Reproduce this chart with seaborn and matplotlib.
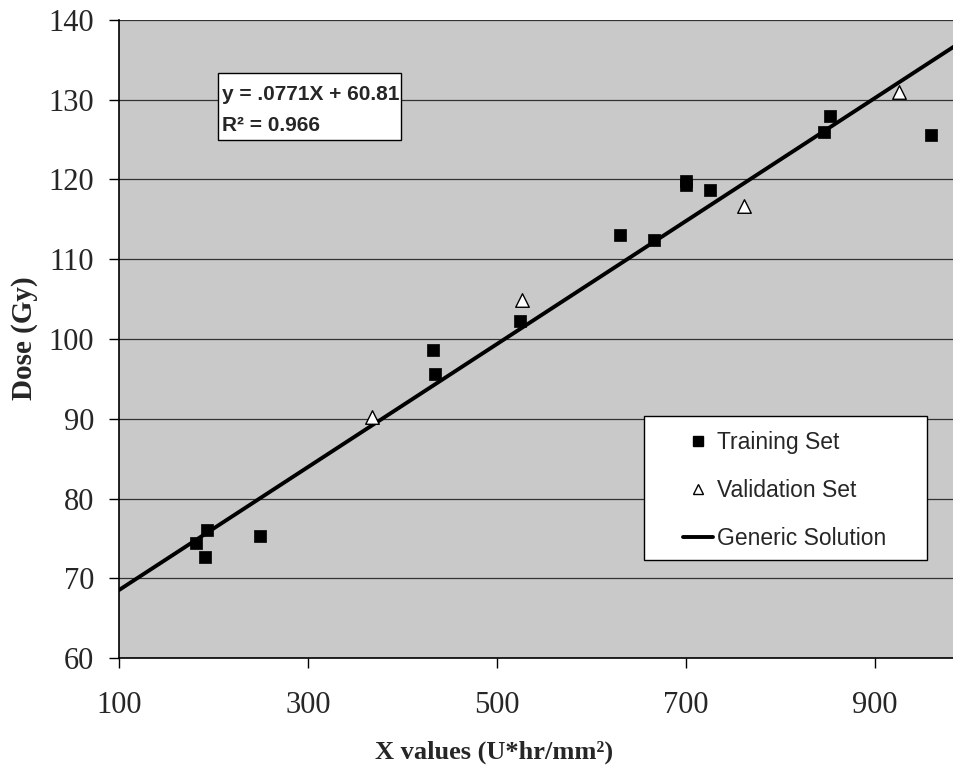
import numpy as np
import pandas as pd
import matplotlib
matplotlib.use("Agg")
import matplotlib.pyplot as plt
import seaborn as sns
from matplotlib.lines import Line2D
from matplotlib.patches import Rectangle

# ---- data ----
train_x = [181, 193, 191, 249, 432, 435, 525, 630, 666, 700, 700, 726, 846, 853, 960]
train_y = [74.4, 76.1, 72.7, 75.3, 98.6, 95.6, 102.3, 113.1, 112.4, 119.8, 119.3, 118.7, 126.0, 127.9, 125.6]
valid_x = [368, 527, 762, 926]
valid_y = [90.2, 104.9, 116.7, 131.0]
slope = 0.0771
intercept = 60.81
line_x = [100, 1000]
xticks = [100, 300, 500, 700, 900]
yticks = [60, 70, 80, 90, 100, 110, 120, 130, 140]

sns.set_style("white")
plt.rcParams["font.family"] = ["Liberation Serif", "DejaVu Serif"]

fig = plt.figure(figsize=(9.54, 7.69), dpi=100)
ax = fig.add_axes([119/954, 111/769, 1 - 119/954 + 0.002, 638/769])
ax.set_facecolor("#c9c9c9")

df_train = pd.DataFrame({"x": train_x, "y": train_y})
df_valid = pd.DataFrame({"x": valid_x, "y": valid_y})
df_line = pd.DataFrame({"x": line_x, "y": [slope * v + intercept for v in line_x]})

sns.lineplot(data=df_line, x="x", y="y", ax=ax, color="black", linewidth=2.8, zorder=3)
sns.scatterplot(data=df_train, x="x", y="y", ax=ax, marker="s", s=68,
                color="black", edgecolor="black", linewidth=0.5, zorder=4)
sns.scatterplot(data=df_valid, x="x", y="y", ax=ax, marker="^", s=95,
                facecolor="white", edgecolor="black", linewidth=1.0, zorder=4)

ax.set_xlim(100, 100 + 835 / 0.9425)
ax.set_ylim(60, 140)
ax.set_xticks(xticks)
ax.set_yticks(yticks)
ax.yaxis.grid(True, color="#333333", linewidth=0.9)
ax.xaxis.grid(False)
ax.set_axisbelow(True)

for s in ["top", "right"]:
    ax.spines[s].set_visible(False)
for s in ["left", "bottom"]:
    ax.spines[s].set_color("black")
    ax.spines[s].set_linewidth(1.2)

ax.tick_params(axis="both", direction="out", length=7, width=1, color="black",
               labelsize=22, left=True, bottom=True)
ax.tick_params(axis="y", pad=11)
ax.tick_params(axis="x", pad=17)

ax.set_xlabel("X values (U*hr/mm²)", fontsize=19, fontweight="bold")
ax.set_ylabel("Dose (Gy)", fontsize=21, fontweight="bold")
ax.xaxis.set_label_coords((493 - 119) / 835, (658 - 741) / 638)
ax.yaxis.set_label_coords((38 - 119) / 835, (658 - 338) / 638)

# equation box
sans = ["Liberation Sans", "DejaVu Sans"]
ax.add_patch(Rectangle((0.1186, 0.812), 0.218, 0.105, transform=ax.transAxes,
                       facecolor="white", edgecolor="black", linewidth=1, zorder=5))
ax.text(0.1234, 0.8746, "y = .0771X + 60.81", transform=ax.transAxes,
        ha="left", va="baseline", family=sans, fontsize=15, fontweight="bold", zorder=6)
ax.text(0.1234, 0.826, "R² = 0.966", transform=ax.transAxes,
        ha="left", va="baseline", family=sans, fontsize=15, fontweight="bold", zorder=6)

# legend: framed box drawn separately, frameless legend inside
ax.add_patch(Rectangle((0.6275, 0.1536), 0.3377, 0.2257, transform=ax.transAxes,
                       facecolor="white", edgecolor="black", linewidth=1, zorder=5))
handles = [
    Line2D([], [], marker="s", color="black", linestyle="none", markersize=6.5),
    Line2D([], [], marker="^", markerfacecolor="white", markeredgecolor="black",
           linestyle="none", markersize=7),
    Line2D([], [], color="black", linewidth=2.8),
]
leg = ax.legend(handles, ["Training Set", "Validation Set", "Generic Solution"],
                loc="upper left", bbox_to_anchor=((682 - 119) / 835, (658 - 431) / 638),
                prop={"family": "Liberation Sans", "size": 16.5},
                frameon=False, labelspacing=1.1, handlelength=1.3, handletextpad=0.15,
                borderpad=0, borderaxespad=0)
leg.set_zorder(7)

fig.savefig("out.png", dpi=100)
